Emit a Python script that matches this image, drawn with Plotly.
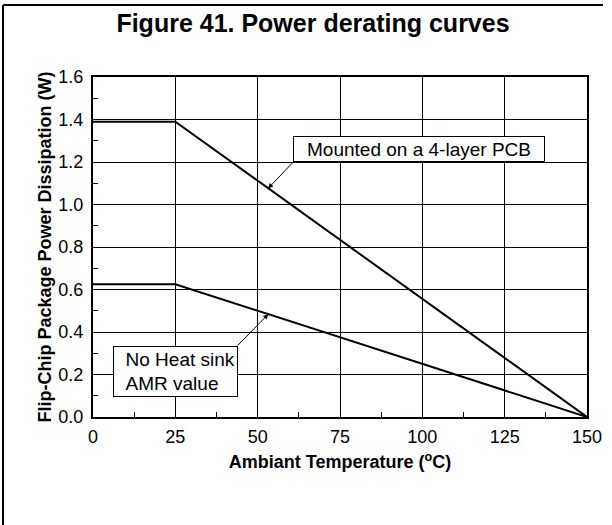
import plotly.graph_objects as go

# Data
temp_pcb = [0, 25, 150]
power_pcb = [1.39, 1.39, 0.0]
temp_nohs = [0, 25, 150]
power_nohs = [0.625, 0.625, 0.0]

x_ticks = [0, 25, 50, 75, 100, 125, 150]
y_ticks = [0.0, 0.2, 0.4, 0.6, 0.8, 1.0, 1.2, 1.4, 1.6]

W, H = 612, 525
L, R, T, B = 93, 25, 77, 108
PW, PH = W - L - R, H - T - B

FONT = "Liberation Sans, Arial, sans-serif"


def px(x):
    return (x - L) / PW


def py(y):
    return (H - B - y) / PH


fig = go.Figure()
for xs, ys, name in [(temp_pcb, power_pcb, "PCB"), (temp_nohs, power_nohs, "No heat sink")]:
    fig.add_trace(go.Scatter(x=xs, y=ys, mode="lines", name=name,
                             line=dict(color="black", width=2), showlegend=False))

axis_common = dict(
    showline=True, mirror=True, linecolor="black", linewidth=2,
    showgrid=True, gridcolor="black", gridwidth=1,
    zeroline=False, ticks="inside", ticklen=6, tickcolor="black",
    tickfont=dict(family=FONT, size=18, color="black"),
    minor=dict(ticks="inside", ticklen=5, tickcolor="black", showgrid=False),
    automargin=False,
)

fig.update_xaxes(range=[0, 150], tickvals=x_ticks, minor_dtick=12.5,
                 ticklabelstandoff=2,
                 title=dict(text="<b>Ambiant Temperature (<sup>o</sup>C)</b>",
                            font=dict(family=FONT, size=18, color="black"), standoff=10),
                 **axis_common)
fig.update_yaxes(range=[0, 1.6], tickvals=y_ticks, tickformat=".1f", minor_dtick=0.1,
                 ticklabelstandoff=4,
                 title=dict(text="<b>Flip-Chip Package Power Dissipation (W)</b>",
                            font=dict(family=FONT, size=18, color="black"), standoff=2),
                 **axis_common)

# callouts: box corner (tail) and point on the curve (head), data coords
fig.add_annotation(x=53.2, y=1.076, ax=60.8, ay=1.20, axref="x", ayref="y",
                   text="Mounted on a 4-layer PCB", showarrow=True, arrowhead=2,
                   arrowsize=1, arrowwidth=1, arrowcolor="black", standoff=0,
                   font=dict(family=FONT, size=19, color="black"),
                   width=248, height=22,
                   bordercolor="black", borderwidth=1, borderpad=1, bgcolor="white",
                   xanchor="left", yanchor="bottom")
fig.add_annotation(x=53.2, y=0.484, ax=43.9, ay=0.336, axref="x", ayref="y",
                   text="&nbsp;&nbsp;No Heat sink<br>&nbsp;&nbsp;AMR value",
                   showarrow=True, arrowhead=2,
                   arrowsize=1, arrowwidth=1, arrowcolor="black", align="left",
                   font=dict(family=FONT, size=19, color="black"),
                   width=121, height=47,
                   bordercolor="black", borderwidth=1, borderpad=1, bgcolor="white",
                   xanchor="right", yanchor="top")

# frame of the figure (left and top edges)
fig.add_shape(type="line", xref="paper", yref="paper",
              x0=px(3), x1=px(3), y0=py(5), y1=py(526),
              line=dict(color="black", width=2))
fig.add_shape(type="line", xref="paper", yref="paper",
              x0=px(3), x1=px(603), y0=py(5), y1=py(5),
              line=dict(color="black", width=2))

fig.update_layout(
    width=W, height=H,
    margin=dict(l=L, r=R, t=T, b=B, autoexpand=False),
    paper_bgcolor="white", plot_bgcolor="white",
    title=dict(text="<b>Figure 41. Power derating curves</b>", x=313 / W, xanchor="center",
               y=1 - 23 / H, yanchor="middle",
               font=dict(family=FONT, size=25, color="black")),
)

fig.write_html("out.html", config={"displayModeBar": False},
               post_script="document.body.style.margin='0';")
